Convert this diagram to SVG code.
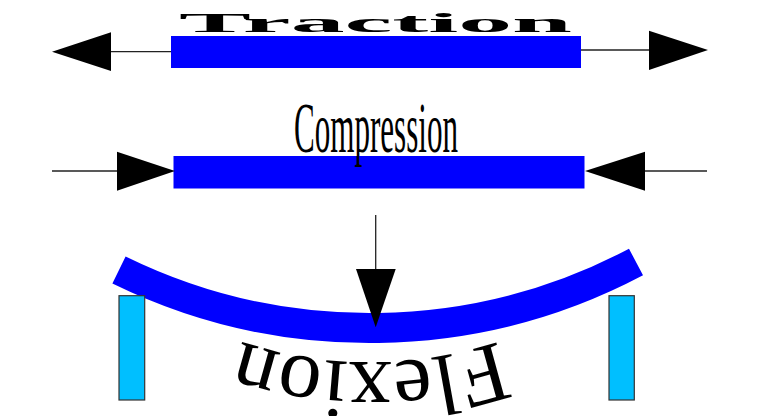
<svg xmlns="http://www.w3.org/2000/svg" width="771" height="416" viewBox="0 0 771 416">
  <style>
    .bar { fill: #0000ff; }
    .beam { fill: none; stroke: #0000ff; stroke-width: 30; }
    .pillar { fill: #00bfff; stroke: #333333; stroke-width: 1.2; }
    .shaft { stroke: #222222; stroke-width: 1.3; fill: none; }
    .head { fill: #000000; }
    .lbl { font-family: "Liberation Serif", "Times New Roman", serif; fill: #000000; }
  </style>
  <defs>
    <path id="flexPath" d="M676,220 A400,400 0 0,1 64,220"/>
  </defs>
  <rect width="771" height="416" fill="#ffffff"/>

  <g id="traction">
    <rect class="bar" x="171" y="36" width="410" height="32"/>
    <text class="lbl" x="179" y="31.7" font-size="28" font-weight="bold" textLength="393" lengthAdjust="spacingAndGlyphs">Traction</text>
  </g>

  <g id="compression">
    <rect class="bar" x="173.5" y="156" width="411" height="32.5"/>
    <text class="lbl" x="294" y="152" font-size="72" textLength="164" lengthAdjust="spacingAndGlyphs">Compression</text>
  </g>

  <g id="flexion">
    <path class="beam" d="M119,270 A570,570 0 0,0 636,262"/>
    <rect class="pillar" x="119" y="295.7" width="25.7" height="104.3"/>
    <rect class="pillar" x="609" y="295.7" width="25.3" height="104.3"/>
    <text class="lbl" font-size="86"><textPath href="#flexPath" startOffset="50%" text-anchor="middle">Flexion</textPath></text>
  </g>

  <g id="connectors">
    <line class="shaft" x1="110" y1="51.7" x2="171" y2="51.7"/>
    <polygon class="head" points="52,51.7 111,32.3 111,71"/>
    <line class="shaft" x1="581" y1="50" x2="650" y2="50"/>
    <polygon class="head" points="708,50 649,30.7 649,70"/>

    <line class="shaft" x1="52" y1="171" x2="118" y2="171"/>
    <polygon class="head" points="175,171 117,151.7 117,190.7"/>
    <line class="shaft" x1="644" y1="171" x2="707" y2="171"/>
    <polygon class="head" points="585,171 645,151.7 645,190.7"/>

    <line class="shaft" x1="375.7" y1="215" x2="375.7" y2="270"/>
    <polygon class="head" points="356,269 395.7,269 375.7,327.3"/>
  </g>
</svg>
